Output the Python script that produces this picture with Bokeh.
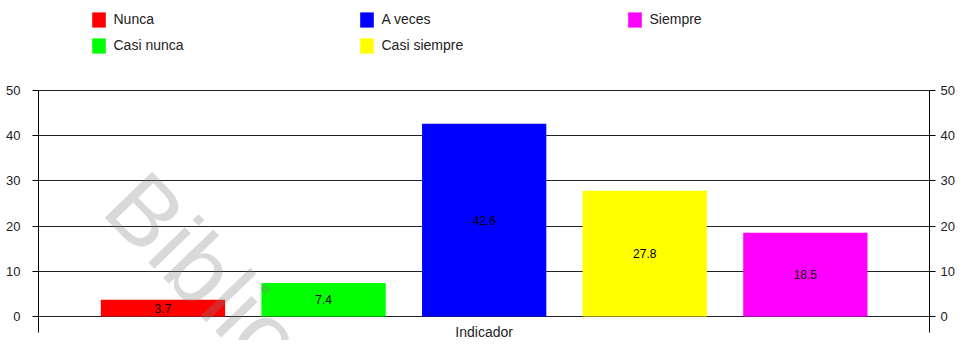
from bokeh.plotting import figure
from bokeh.models import ColumnDataSource, Range1d, LinearAxis, Legend, LegendItem, Label, FixedTicker
from bokeh.embed import file_html
from bokeh.resources import INLINE

categories = ["Nunca", "Casi nunca", "A veces", "Casi siempre", "Siempre"]
values = [3.7, 7.4, 42.6, 27.8, 18.5]
colors = ["#ff0000", "#00ff00", "#0000ff", "#ffff00", "#ff00ff"]
y_ticks = [0, 10, 20, 30, 40, 50]
x_label = "Indicador"
watermark = "Biblioteca"

positions = list(range(len(categories)))
src = ColumnDataSource(dict(
    x=positions,
    top=values,
    mid=[v / 2 for v in values],
    color=colors,
    cat=categories,
    label=[f"{v:.1f}" for v in values],
))

FONT = "Liberation Sans"
Y_MAX = y_ticks[-1]

p = figure(frame_width=891, frame_height=340,
           x_range=Range1d(-0.775, len(categories) - 1 + 0.773),
           y_range=Range1d(-5.28, 69.84),
           output_backend="svg", toolbar_location=None,
           min_border_left=38, min_border_right=28, min_border_top=0, min_border_bottom=0,
           x_axis_location=None, y_axis_location="left")
p.outline_line_color = None
p.background_fill_color = "white"
p.border_fill_color = "white"
p.xgrid.visible = False

ticker = FixedTicker(ticks=y_ticks)
p.ygrid.ticker = ticker
p.ygrid.grid_line_color = "#222222"
p.ygrid.grid_line_width = 1

def style_axis(ax, standoff):
    ax.ticker = ticker
    ax.bounds = (-3.58, Y_MAX)
    ax.axis_line_color = "black"
    ax.major_tick_line_color = "black"
    ax.major_tick_out = 6
    ax.major_tick_in = 0
    ax.minor_tick_line_color = None
    ax.major_label_text_font = FONT
    ax.major_label_text_font_size = "13px"
    ax.major_label_text_color = "#222222"
    ax.major_label_standoff = standoff

style_axis(p.yaxis[0], 12)
right = LinearAxis()
style_axis(right, 5)
p.add_layout(right, "right")

bars = p.vbar(x="x", top="top", bottom=0, width=0.774, fill_color="color",
              line_color=None, source=src)

p.text(x="x", y="mid", text="label", source=src, text_align="center",
       text_baseline="middle", text_font_size="12px", text_color="black",
       text_font={"value": FONT})

legend = Legend(
    items=[LegendItem(label=c, renderers=[bars], index=i) for i, c in enumerate(categories)],
    location=(51.5, 285.3), orientation="vertical", nrows=2,
    glyph_width=17, glyph_height=19, label_standoff=7, label_width=237,
    label_height=19, spacing=7, padding=0, margin=0,
    border_line_color=None, background_fill_alpha=0,
    label_text_font=FONT, label_text_font_size="14px", label_text_color="#222222",
)
p.add_layout(legend)

p.add_layout(Label(x=(len(categories) - 1) / 2, y=-3.45, text=x_label, text_align="center",
                   text_baseline="alphabetic", text_font=FONT, text_font_size="14px",
                   text_color="#222222"))

p.add_layout(Label(x=-0.247, y=28.26, text=watermark, angle=-0.80, text_align="left",
                   text_baseline="alphabetic", text_font=FONT, text_font_size="96px",
                   text_color="#808080", text_alpha=0.3))

open("out.html", "w").write(file_html(p, INLINE))
